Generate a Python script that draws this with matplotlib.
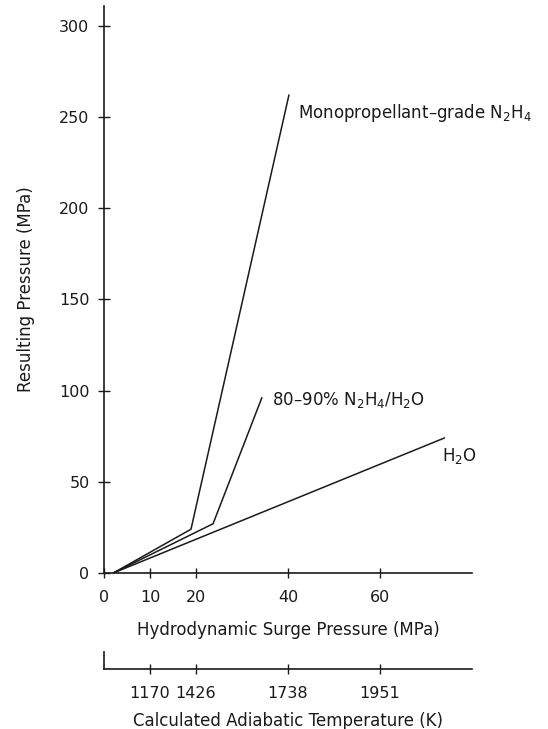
import matplotlib.pyplot as plt

plt.rcParams['font.family'] = ['DejaVu Sans']
plt.rcParams['mathtext.default'] = 'regular'

# surge pressure (MPa) vs resulting pressure (MPa)
h2o_x = [2, 74]
h2o_y = [0, 74]
mix_x = [2, 23.7, 34.3]
mix_y = [0, 27, 96]
mono_x = [2, 18.9, 40.2]
mono_y = [0, 24, 262]

x_ticks = [0, 10, 20, 40, 60]
y_ticks = [0, 50, 100, 150, 200, 250, 300]
temp_pos = [10, 20, 40, 60]
temp_labels = ['1170', '1426', '1738', '1951']

ink = '#1a1a1a'
fs = 12
tfs = 11.5
fig = plt.figure(figsize=(5.48, 7.29), dpi=100)
ax = fig.add_axes([0.19, 0.214, 0.671, 0.778])

ax.plot(h2o_x, h2o_y, color=ink, lw=1.1)
ax.plot(mix_x, mix_y, color=ink, lw=1.1)
ax.plot(mono_x, mono_y, color=ink, lw=1.1)

ax.text(42.2, 252, 'Monopropellant\u2013grade N$_2$H$_4$', fontsize=fs, color=ink, va='center')
ax.text(36.5, 95, '80\u201390% N$_2$H$_4$/H$_2$O', fontsize=fs, color=ink, va='center')
ax.text(73.5, 64, 'H$_2$O', fontsize=fs, color=ink, va='center')

ax.set_xlim(0, 80)
ax.set_ylim(0, 311)
ax.set_xticks(x_ticks)
ax.set_yticks(y_ticks)
for s in ['top', 'right']:
    ax.spines[s].set_visible(False)
for s in ['left', 'bottom']:
    ax.spines[s].set_color(ink)
    ax.spines[s].set_linewidth(1.2)
ax.tick_params(axis='y', direction='inout', length=9, width=1, colors=ink, labelsize=tfs, pad=6)
ax.tick_params(axis='x', direction='inout', length=7, width=1, colors=ink, labelsize=tfs, pad=9)
ax.set_xlabel('Hydrodynamic Surge Pressure (MPa)', fontsize=fs, color=ink, labelpad=11)
ax.set_ylabel('Resulting Pressure (MPa)', fontsize=fs, color=ink, labelpad=17)

# secondary temperature scale
ax2 = fig.add_axes([0.19, 0.0823, 0.671, 0.0233])
ax2.set_xlim(0, 80)
ax2.set_ylim(0, 1)
ax2.set_facecolor('none')
for s in ['top', 'right']:
    ax2.spines[s].set_visible(False)
for s in ['left', 'bottom']:
    ax2.spines[s].set_color(ink)
    ax2.spines[s].set_linewidth(1.2)
ax2.set_yticks([])
ax2.set_xticks(temp_pos)
ax2.set_xticklabels(temp_labels)
ax2.tick_params(axis='x', direction='inout', length=7, width=1, colors=ink, labelsize=tfs, pad=9)
ax2.set_xlabel('Calculated Adiabatic Temperature (K)', fontsize=fs, color=ink, labelpad=8)

fig.savefig('out.png', dpi=100)
